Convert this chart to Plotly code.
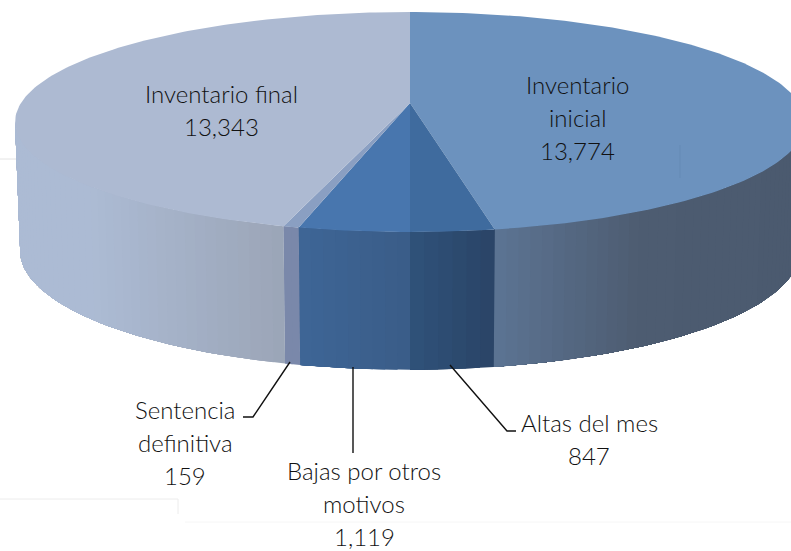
import numpy as np
import plotly.graph_objects as go

# Data (clockwise from 12 o'clock)
labels = ["Inventario<br>inicial", "Altas del mes", "Bajas por otros<br>motivos", "Sentencia<br>definitiva", "Inventario final"]
values = [13774, 847, 1119, 159, 13343]

top_colors = ["#6c92be", "#3f6b9e", "#4876ae", "#8a9fc2", "#adbad2"]
wall_stops = [
    [(495, (92, 116, 147)), (640, (77, 92, 113)), (800, (75, 90, 111))],
    [(410, (48, 82, 122)), (495, (42, 68, 102))],
    [(298, (62, 102, 150)), (410, (58, 92, 136))],
    [(283, (122, 136, 170)), (298, (122, 136, 170))],
    [(15, (172, 187, 212)), (90, (172, 187, 212)), (283, (155, 165, 183))],
]
# centre of first text line of each label
label_pos = [(577, 84), (589, 422), (364, 470), (185, 409), (221, 93)]
LINE_GAP = 33

CX, CY_TOP, RX_TOP, RY_TOP, K = 410, 103, 389, 106.7, 0.1728
CY_BOT, RX_BOT, RY_BOT = 230, 384, 115.6


def top(t):
    s = 1 / (1 + K * np.cos(t))
    return CX + RX_TOP * np.sin(t) * s, CY_TOP - RY_TOP * np.cos(t) * s


def bot(t):
    s = 1 / (1 + K * np.cos(t))
    return CX + RX_BOT * np.sin(t) * s, CY_BOT - RY_BOT * np.cos(t) * s


total = sum(values)
edges = np.concatenate([[0], np.cumsum(values)]) / total * 2 * np.pi
t_r, t_l = np.arccos(-K), 2 * np.pi - np.arccos(-K)

fig = go.Figure()


def poly(xs, ys, color):
    fig.add_trace(go.Scatter(x=list(xs), y=list(ys), mode="lines", fill="toself", fillcolor=color,
                             line=dict(color=color, width=0), hoverinfo="skip", showlegend=False))


def seg(xs, ys, color, width):
    fig.add_trace(go.Scatter(x=xs, y=ys, mode="lines", line=dict(color=color, width=width),
                             hoverinfo="skip", showlegend=False))


seg([0, 17], [159, 159], "#e4e4e4", 1)
seg([0, 178, 178], [499, 499, 514], "#ececec", 1)
seg([185, 791], [522, 522], "#f6f6f6", 1)

# walls: each strip runs to the end of its slice, the next one paints over it
for i in range(len(values)):
    a, b = max(edges[i], t_r), min(edges[i + 1], t_l)
    if b <= a:
        continue
    n = max(2, int((b - a) / np.radians(1.5)))
    ts = np.linspace(a, b, n + 1)
    sx, sc = zip(*wall_stops[i])
    sc = np.array(sc, float)
    for t0, t1 in zip(ts[:-1], ts[1:]):
        rest = np.linspace(t0, b, max(2, int((b - t0) / np.radians(1.5)) + 1))
        xt, yt = top(rest)
        xb, yb = bot(rest)
        xm = (top(t0)[0] + top(t1)[0]) / 2
        c = [int(round(np.interp(xm, sx, sc[:, j]))) for j in range(3)]
        poly(np.r_[xt, xb[::-1], xt[0]], np.r_[yt, yb[::-1], yt[0]], f"rgb({c[0]},{c[1]},{c[2]})")

# top faces
for i in range(len(values)):
    ts = np.linspace(edges[i], edges[i + 1], max(3, int((edges[i + 1] - edges[i]) / np.radians(1))))
    x, y = top(ts)
    poly(np.r_[CX, x, CX], np.r_[CY_TOP, y, CY_TOP], top_colors[i])

seg([680, 680], [145, 178], "#648ab5", 1)

# leader lines
seg([450, 507, 516], [365, 431, 431], "#111111", 1.4)
seg([353, 353], [367, 453], "#111111", 1.4)
seg([290, 253, 243], [362, 417, 417], "#111111", 1.4)

for lab, v, (x, y) in zip(labels, values, label_pos):
    for j, line in enumerate(lab.split("<br>") + [f"{v:,}"]):
        fig.add_annotation(x=x, y=y + j * LINE_GAP, text=line, showarrow=False, align="center",
                           xanchor="center", yanchor="middle",
                           font=dict(family="Lato", size=24, weight=300, color="#111111"))

fig.update_layout(width=791, height=551, margin=dict(l=0, r=0, t=0, b=0), paper_bgcolor="white",
                  plot_bgcolor="white", showlegend=False,
                  xaxis=dict(range=[0, 791], visible=False, fixedrange=True),
                  yaxis=dict(range=[551, 0], visible=False, fixedrange=True))
fig.write_html("out.html", config={"displayModeBar": False},
               post_script="document.body.style.margin='0';document.documentElement.style.overflow='hidden';")
